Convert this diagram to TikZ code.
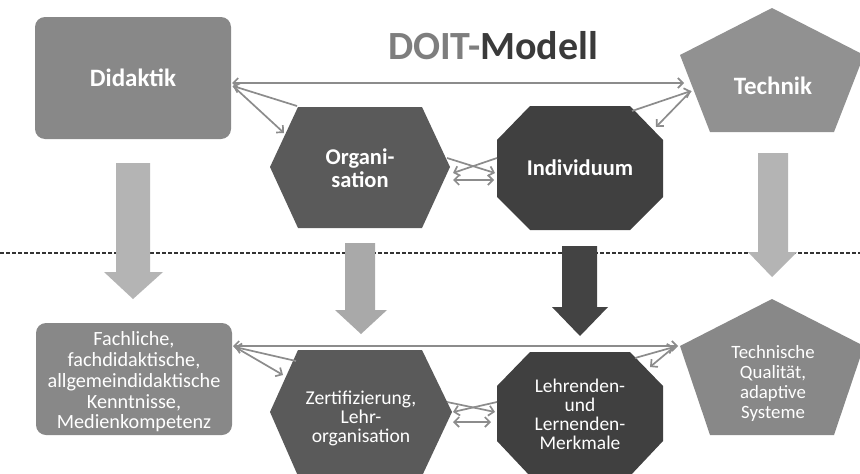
\documentclass[tikz,border=0pt]{standalone}
\usepackage{fontspec}
\setmainfont{Carlito}
\usetikzlibrary{arrows.meta}
\definecolor{boxgray}{HTML}{888888}
\definecolor{techgray}{HTML}{919191}
\definecolor{orggray}{HTML}{5A5A5A}
\definecolor{indgray}{HTML}{404040}
\definecolor{lightarrow}{HTML}{B4B4B4}
\definecolor{orgarrow}{HTML}{A9A9A9}
\definecolor{indarrow}{HTML}{434343}
\definecolor{conngray}{HTML}{8C8C8C}
\definecolor{titlelight}{HTML}{7E7E7E}
\definecolor{titledark}{HTML}{3A3A3A}
\tikzset{
  conn/.style={draw=conngray, line width=1.7pt, >={Straight Barb[length=5pt,width=10pt]}},
  roundbox/.style={fill=boxgray, rounded corners=10pt, text=white, align=center, inner sep=0pt},
  boldtxt/.style={text=white, align=center, font=\bfseries\fontsize{23}{24}\selectfont, inner sep=0pt},
  normtxt/.style={text=white, align=center, font=\fontsize{19.5}{19.5}\selectfont, inner sep=0pt},
  divider/.style={draw=black!80, line width=1.4pt, dash pattern=on 4pt off 2pt}
}
\begin{document}
\begin{tikzpicture}[x=1pt,y=-1pt]
\useasboundingbox[fill=white] (0,0) rectangle (860,474);

% dashed divider
\draw[divider] (0,253) -- (860,253);

% ---------- top row shapes ----------
\node[roundbox, minimum width=196pt, minimum height=122pt, font=\bfseries\fontsize{25}{27}\selectfont] (did) at (133,78) {Didaktik};

\fill[orggray] (270,167) -- (298,107) -- (422,107) -- (450,167) -- (422,228) -- (298,228) -- cycle;
\node[boldtxt, font=\bfseries\fontsize{22.5}{23}\selectfont] (org) at (360,168) {Organi-\\sation};

\fill[indgray] (530,106) -- (630,106) -- (663,140) -- (663,197) -- (630,230) -- (530,230) -- (497,197) -- (497,140) -- cycle;
\node[boldtxt, font=\bfseries\fontsize{22.5}{23}\selectfont] (ind) at (580,168) {Individuum};

\fill[techgray] (772,8) -- (864,55) -- (834,132) -- (710,132) -- (680,55) -- cycle;
\node[boldtxt, font=\bfseries\fontsize{25}{27}\selectfont] (tech) at (773,86) {Technik};

% title
\node[inner sep=0pt, font=\bfseries\fontsize{40}{44}\selectfont] (title) at (493,46) {\textcolor{titlelight}{DOIT-}\textcolor{titledark}{Modell}};

% ---------- top connectors ----------
\coordinate (dA) at (232,83);
\coordinate (tA) at (684,83);
\draw[conn,<->] (dA) -- (tA);
\coordinate (dB) at (233,86);
\coordinate (orgTL) at (297,106);
\coordinate (orgA) at (284,133);
\draw[conn,->] (orgTL) -- (dB);
\draw[conn,->] (dB) -- (orgA);
\coordinate (tB) at (691,91);
\coordinate (indTR) at (632,111);
\coordinate (indA) at (656,127);
\draw[conn,->] (indTR) -- (tB);
\draw[conn,->] (tB) -- (indA);
\coordinate (orgR1) at (447,158);
\coordinate (orgR2) at (453,173);
\coordinate (orgR3) at (453,180);
\coordinate (indL1) at (497,158);
\coordinate (indL2) at (495,173);
\coordinate (indL3) at (494,180);
\draw[conn,->] (orgR1) -- (indL2);
\draw[conn,->] (indL1) -- (orgR2);
\draw[conn,<->] (orgR3) -- (indL3);

% ---------- block arrows ----------
\fill[lightarrow] (116,163) -- (150,163) -- (150,272) -- (163,272) -- (133,299) -- (104,272) -- (116,272) -- cycle;
\fill[orgarrow] (345,243) -- (375,243) -- (375,310) -- (387,310) -- (361,334) -- (335,310) -- (345,310) -- cycle;
\fill[indarrow] (562,246) -- (597,246) -- (597,307) -- (608,307) -- (580,336) -- (552,307) -- (562,307) -- cycle;
\fill[lightarrow] (758,153) -- (788,153) -- (788,252) -- (797,252) -- (772,277) -- (748,252) -- (758,252) -- cycle;

% ---------- bottom row shapes ----------
\node[roundbox, minimum width=196pt, minimum height=112pt] (fach) at (134,379) {};
\node[normtxt, font=\fontsize{20.2}{20.8}\selectfont] (fachtxt) at (134,382) {Fachliche,\\fachdidaktische,\\allgemeindidaktische\\Kenntnisse,\\Medienkompetenz};

\fill[orggray] (270,412) -- (298,350) -- (422,350) -- (452,412) -- (422,476) -- (298,476) -- cycle;
\node[normtxt, font=\fontsize{19.6}{19}\selectfont] (zert) at (361,418) {Zertifizierung,\\Lehr-\\organisation};

\fill[indgray] (530,352) -- (630,352) -- (663,386) -- (663,441) -- (630,476) -- (530,476) -- (497,441) -- (497,386) -- cycle;
\node[normtxt, font=\fontsize{19.4}{19}\selectfont] (lern) at (580,414) {Lehrenden-\\und\\Lernenden-\\Merkmale};

\fill[boxgray] (772,299) -- (864,346) -- (834,435) -- (710,435) -- (680,346) -- cycle;
\node[normtxt, font=\fontsize{18.8}{20}\selectfont] (qual) at (773,383) {Technische\\Qualität,\\adaptive\\Systeme};

% ---------- bottom connectors ----------
\coordinate (fA) at (233,346);
\coordinate (qA) at (678,346);
\draw[conn,<->] (fA) -- (qA);
\coordinate (fB) at (235,347);
\coordinate (zertTL) at (296,361);
\coordinate (zertA) at (283,375);
\draw[conn,->] (zertTL) -- (fB);
\draw[conn,->] (fB) -- (zertA);
\coordinate (qB) at (674,347);
\coordinate (lernTR) at (635,358);
\coordinate (lernA) at (650,367);
\draw[conn,->] (lernTR) -- (qB);
\draw[conn,->] (qB) -- (lernA);
\coordinate (zR1) at (447,402);
\coordinate (zR2) at (453,412);
\coordinate (zR3) at (453,422);
\coordinate (lL1) at (497,402);
\coordinate (lL2) at (495,412);
\coordinate (lL3) at (491,422);
\draw[conn,->] (zR1) -- (lL2);
\draw[conn,->] (lL1) -- (zR2);
\draw[conn,<->] (zR3) -- (lL3);
\end{tikzpicture}
\end{document}
